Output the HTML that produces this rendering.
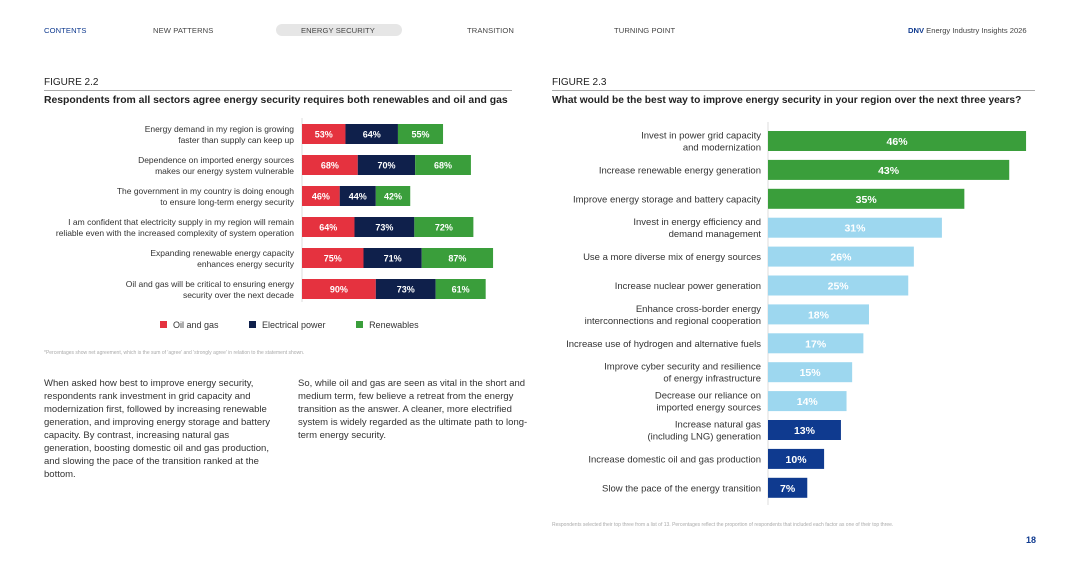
<!DOCTYPE html>
<html><head><meta charset="utf-8"><style>
body{margin:0;width:1080px;height:570px;background:#fff;font-family:"Liberation Sans",sans-serif;position:relative;overflow:hidden;color:#222}
.a{position:absolute}
.nav{font-size:7.6px;color:#444;top:26px;letter-spacing:.1px}
.body{font-size:9.5px;line-height:13px;color:#333}
</style></head><body>
<div class="a nav" style="left:44px;color:#0f3a8f">CONTENTS</div>
<div class="a nav" style="left:153px">NEW PATTERNS</div>
<div class="a" style="left:276px;top:24px;width:126px;height:12px;background:#e6e6e6;border-radius:6px"></div>
<div class="a nav" style="left:301px">ENERGY SECURITY</div>
<div class="a nav" style="left:467px">TRANSITION</div>
<div class="a nav" style="left:614px">TURNING POINT</div>
<div class="a nav" style="left:908px;letter-spacing:0"><b style="color:#0f3a8f">DNV</b> Energy Industry Insights 2026</div>

<div class="a" style="left:44px;top:77px;font-size:10px">FIGURE 2.2</div>
<div class="a" style="left:44px;top:90px;width:468px;height:1px;background:#aaa"></div>
<div class="a" style="left:44px;top:95px;font-size:10.4px;font-weight:bold">Respondents from all sectors agree energy security requires both renewables and oil and gas</div>
<div class="a" style="left:552px;top:77px;font-size:10px">FIGURE 2.3</div>
<div class="a" style="left:552px;top:90px;width:483px;height:1px;background:#aaa"></div>
<div class="a" style="left:552px;top:95px;font-size:10.2px;font-weight:bold">What would be the best way to improve energy security in your region over the next three years?</div>

<svg class="a" style="left:0;top:0" width="1080" height="570" id="svg"></svg>

<div class="a" style="left:160px;top:320px;font-size:9px;color:#333">
<span style="display:inline-block;width:7px;height:7px;background:#e5323f;margin-right:6px"></span>Oil and gas
<span style="display:inline-block;width:7px;height:7px;background:#0f204b;margin:0 6px 0 28px"></span>Electrical power
<span style="display:inline-block;width:7px;height:7px;background:#3a9e3b;margin:0 6px 0 28px"></span>Renewables</div>
<div class="a" style="left:44px;top:350px;font-size:5px;color:#aaa">*Percentages show net agreement, which is the sum of 'agree' and 'strongly agree' in relation to the statement shown.</div>
<div class="a body" style="left:44px;top:377px;width:235px">When asked how best to improve energy security, respondents rank investment in grid capacity and modernization first, followed by increasing renewable generation, and improving energy storage and battery capacity. By contrast, increasing natural gas generation, boosting domestic oil and gas production, and slowing the pace of the transition ranked at the bottom.</div>
<div class="a body" style="left:298px;top:377px;width:235px">So, while oil and gas are seen as vital in the short and medium term, few believe a retreat from the energy transition as the answer. A cleaner, more electrified system is widely regarded as the ultimate path to long-term energy security.</div>
<div class="a" style="left:552px;top:522px;font-size:5px;color:#aaa">Respondents selected their top three from a list of 13. Percentages reflect the proportion of respondents that included each factor as one of their top three.</div>
<div class="a" style="left:1026px;top:535px;font-size:9px;font-weight:bold;color:#0f3a8f">18</div>

<script>
const leftCats=[["Energy demand in my region is growing","faster than supply can keep up"],["Dependence on imported energy sources","makes our energy system vulnerable"],["The government in my country is doing enough","to ensure long-term energy security"],["I am confident that electricity supply in my region will remain","reliable even with the increased complexity of system operation"],["Expanding renewable energy capacity","enhances energy security"],["Oil and gas will be critical to ensuring energy","security over the next decade"]];
const oilGas=[53,68,46,64,75,90];
const electrical=[64,70,44,73,71,73];
const renewables=[55,68,42,72,87,61];
const rightCats=[["Invest in power grid capacity","and modernization"],["Increase renewable energy generation"],["Improve energy storage and battery capacity"],["Invest in energy efficiency and","demand management"],["Use a more diverse mix of energy sources"],["Increase nuclear power generation"],["Enhance cross-border energy","interconnections and regional cooperation"],["Increase use of hydrogen and alternative fuels"],["Improve cyber security and resilience","of energy infrastructure"],["Decrease our reliance on","imported energy sources"],["Increase natural gas","(including LNG) generation"],["Increase domestic oil and gas production"],["Slow the pace of the energy transition"]];
const rightVals=[46,43,35,31,26,25,18,17,15,14,13,10,7];
const rightGroup=["g","g","g","b","b","b","b","b","b","b","d","d","d"];

const svg=document.getElementById('svg');const NS="http://www.w3.org/2000/svg";
function mk(t,a){const e=document.createElementNS(NS,t);for(const k in a)e.setAttribute(k,a[k]);svg.appendChild(e);return e;}
function txt(x,y,s,anchor,size,fill,bold){const t=mk('text',{x:x,y:y,'text-anchor':anchor,'font-size':size,fill:fill,'font-family':'Liberation Sans, sans-serif'});if(bold)t.setAttribute('font-weight','bold');t.textContent=s;return t;}
const lx0=302,lk=0.82,ly=i=>134+i*31,lh=20;
const lx=v=>v*lk;
let ax=mk('line',{x1:lx0,x2:lx0,y1:118,y2:302,stroke:'#ddd'});


const series=[[oilGas,'#e5323f','oil-gas'],[electrical,'#0f204b','electrical'],[renewables,'#3a9e3b','renewables']];
leftCats.forEach((c,i)=>{
  const l1=txt(294,ly(i)-2,c[0],'end',8.5,'#333');
  
  
  const l2=txt(294,ly(i)+9,c[1],'end',8.5,'#333');
  
  
  let x=lx0;
  series.forEach(([arr,col,nm])=>{
    const w=lx(arr[i]);
    const r=mk('rect',{x:x,y:ly(i)-lh/2,width:w,height:lh,fill:col});
    
    
    const t=txt(x+w/2,ly(i)+3.5,arr[i]+'%','middle',9,'#fff',true);
    
    
    x+=w;
  });
});
const rx0=768,rk=5.61,ry=i=>141+i*28.9,rh=20;
const rx=v=>v*rk;
const cols={g:'#3a9e3b',b:'#9dd7ef',d:'#0f3a8f'};
ax=mk('line',{x1:rx0,x2:rx0,y1:122,y2:505,stroke:'#ddd'});


rightCats.forEach((c,i)=>{
  c.forEach((s,j)=>{const y=c.length==1?ry(i)+3.5:ry(i)-2.5+j*12;
    const t=txt(761,y,s,'end',9.5,'#333');
    
    });
  const w=rx(rightVals[i]);
  const r=mk('rect',{x:rx0,y:ry(i)-rh/2,width:w,height:rh,fill:cols[rightGroup[i]]});
  
  
  const t=txt(rx0+w/2,ry(i)+4,rightVals[i]+'%','middle',10.5,'#fff',true);
  
  
});
</script>
</body></html>
